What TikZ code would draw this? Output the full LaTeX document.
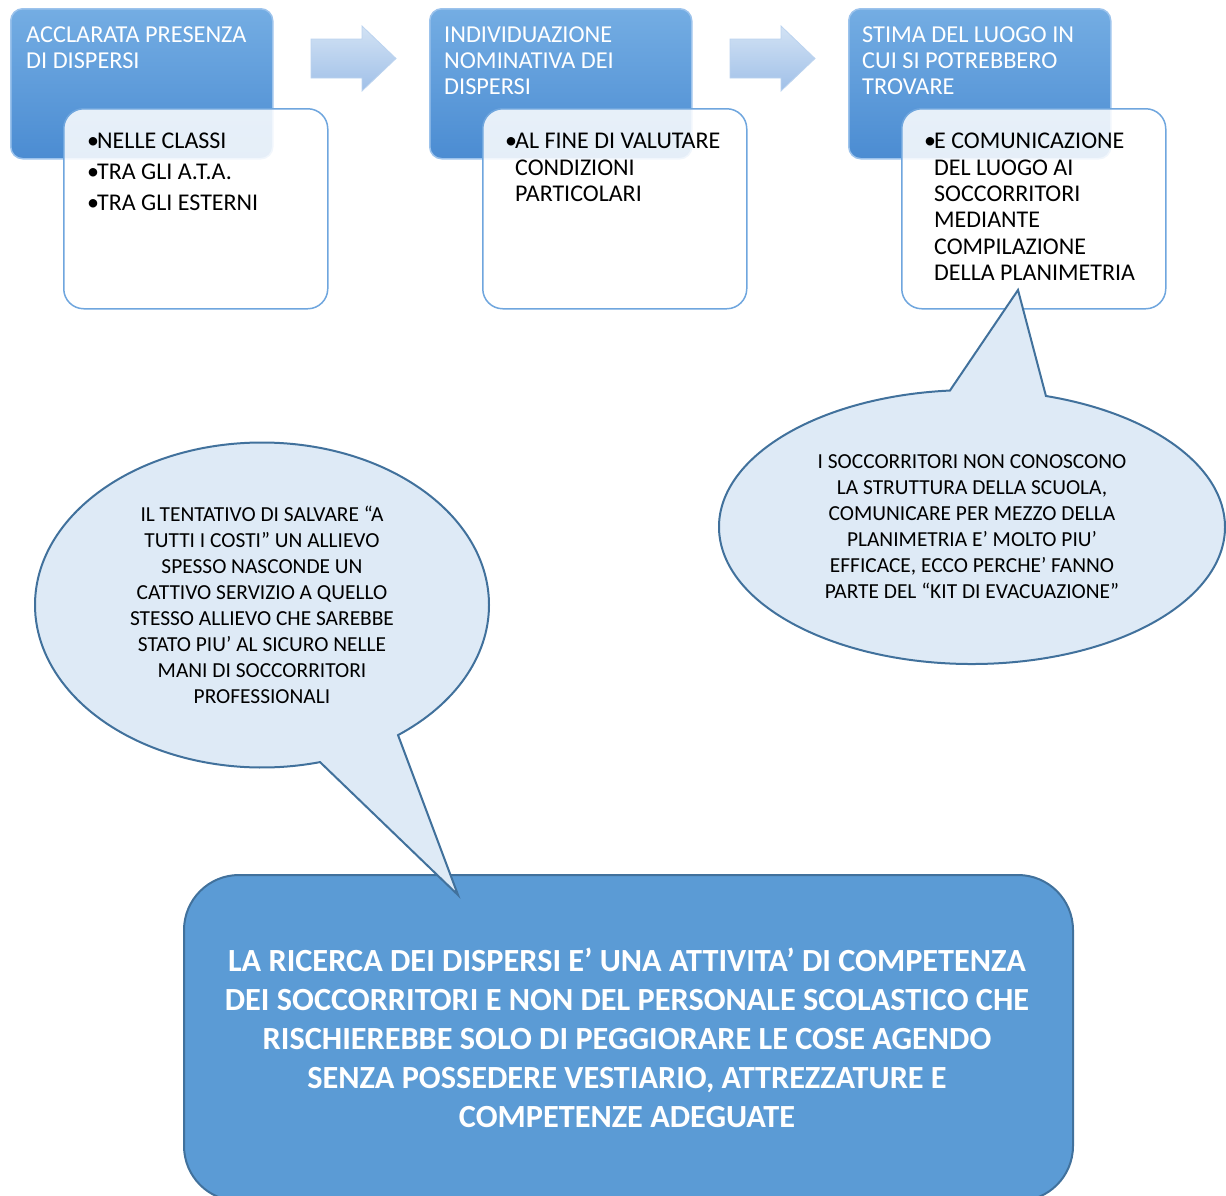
\documentclass[tikz,border=0pt]{standalone}
\usepackage{fontspec}
\setmainfont{Carlito}
\usetikzlibrary{shapes.callouts}
\definecolor{hdrTop}{HTML}{74ADE3}
\definecolor{hdrBot}{HTML}{4B8CD2}
\definecolor{hdrEdge}{HTML}{9CC3EC}
\definecolor{boxEdge}{HTML}{6FA6DE}
\definecolor{arrTop}{HTML}{D2E2F4}
\definecolor{arrBot}{HTML}{A0C0E8}
\definecolor{arrEdge}{HTML}{BBD3EF}
\definecolor{callFill}{HTML}{DEEAF6}
\definecolor{callEdge}{HTML}{41719C}
\definecolor{mainFill}{HTML}{5B9BD5}
\newcommand{\bul}{\makebox[10pt][l]{•}}
\newcommand{\ind}{\hspace*{10pt}}
\begin{document}
\begin{tikzpicture}[x=1pt,y=-1pt,
  hdr/.style={rounded corners=12pt, top color=hdrTop, bottom color=hdrBot, draw=hdrEdge, line width=1.5pt, minimum width=262pt, minimum height=150pt, anchor=north west, inner sep=0pt},
  sub/.style={rounded corners=20pt, fill=white, fill opacity=0.86, draw=boxEdge, draw opacity=1, line width=1.5pt, minimum width=264pt, minimum height=200pt, anchor=north west, inner sep=0pt},
  hdrtext/.style={anchor=north west, inner sep=0pt, align=left, text=white, font=\fontsize{24.3}{26}\selectfont},
  subtext/.style={anchor=north west, inner sep=0pt, align=left, text=black, font=\fontsize{24}{26.4}\selectfont},
  blockarrow/.style={top color=arrTop, bottom color=arrBot, draw=arrEdge, line width=0.8pt},
  bubble/.style={ellipse callout, draw=callEdge, fill=callFill, line width=2pt, inner sep=0pt, align=center, text=black, font=\fontsize{21.4}{26}\selectfont},
  mainbox/.style={draw=callEdge, fill=mainFill, line width=2pt, rounded corners=55pt, anchor=north west, inner sep=0pt},
  maintext/.style={align=center, inner sep=0pt, text=white, font=\bfseries\fontsize{32.3}{39}\selectfont}
]
\path[use as bounding box] (0,0) rectangle (1226,1195);

% headers
\node[hdr] (h1) at (10,8) {};
\node[hdr] (h2) at (429,8) {};
\node[hdr] (h3) at (848,8) {};

% block arrows
\path[blockarrow] (311,39) -- (362,39) -- (362,26) -- (396,58.5) -- (362,91) -- (362,78) -- (311,78) -- cycle;
\path[blockarrow] (730,39) -- (781,39) -- (781,26) -- (815,58.5) -- (781,91) -- (781,78) -- (730,78) -- cycle;

\node[hdrtext] (h1t) at (26,27) {ACCLARATA PRESENZA\\DI DISPERSI};
\node[hdrtext] (h2t) at (444,27) {INDIVIDUAZIONE\\NOMINATIVA DEI\\DISPERSI};
\node[hdrtext] (h3t) at (862,27) {STIMA DEL LUOGO IN\\CUI SI POTREBBERO\\TROVARE};

% sub boxes
\node[sub] (s1) at (63,108) {};
\node[sub] (s2) at (482,108) {};
\node[sub] (s3) at (901,108) {};

\node[subtext] (s1t) at (87,133) {\bul NELLE CLASSI\\[4.6pt]\bul TRA GLI A.T.A.\\[4.6pt]\bul TRA GLI ESTERNI};
\node[subtext] (s2t) at (505,133) {\bul AL FINE DI VALUTARE\\\ind CONDIZIONI\\\ind PARTICOLARI};
\node[subtext] (s3t) at (924,133) {\bul E COMUNICAZIONE\\\ind DEL LUOGO AI\\\ind SOCCORRITORI\\\ind MEDIANTE\\\ind COMPILAZIONE\\\ind DELLA PLANIMETRIA};

% bottom box
\node[mainbox, minimum width=889pt, minimum height=326pt] (m) at (183,874) {};
\node[maintext] (mt) at (627,1038) {LA RICERCA DEI DISPERSI E’ UNA ATTIVITA’ DI COMPETENZA\\DEI SOCCORRITORI E NON DEL PERSONALE SCOLASTICO CHE\\RISCHIEREBBE SOLO DI PEGGIORARE LE COSE AGENDO\\SENZA POSSEDERE VESTIARIO, ATTREZZATURE E\\COMPETENZE ADEGUATE};

% callouts
\node[bubble, minimum width=506pt, minimum height=274pt, callout absolute pointer={(1018,290)}, callout pointer arc=22] (c1) at (972,527)
 {I SOCCORRITORI NON CONOSCONO\\LA STRUTTURA DELLA SCUOLA,\\COMUNICARE PER MEZZO DELLA\\PLANIMETRIA E’ MOLTO PIU’\\EFFICACE, ECCO PERCHE’ FANNO\\PARTE DEL “KIT DI EVACUAZIONE”};
\node[bubble, minimum width=454pt, minimum height=325pt, callout absolute pointer={(458,895)}, callout pointer arc=22] (c2) at (262,605)
 {IL TENTATIVO DI SALVARE “A\\TUTTI I COSTI” UN ALLIEVO\\SPESSO NASCONDE UN\\CATTIVO SERVIZIO A QUELLO\\STESSO ALLIEVO CHE SAREBBE\\STATO PIU’ AL SICURO NELLE\\MANI DI SOCCORRITORI\\PROFESSIONALI};
\end{tikzpicture}
\end{document}
